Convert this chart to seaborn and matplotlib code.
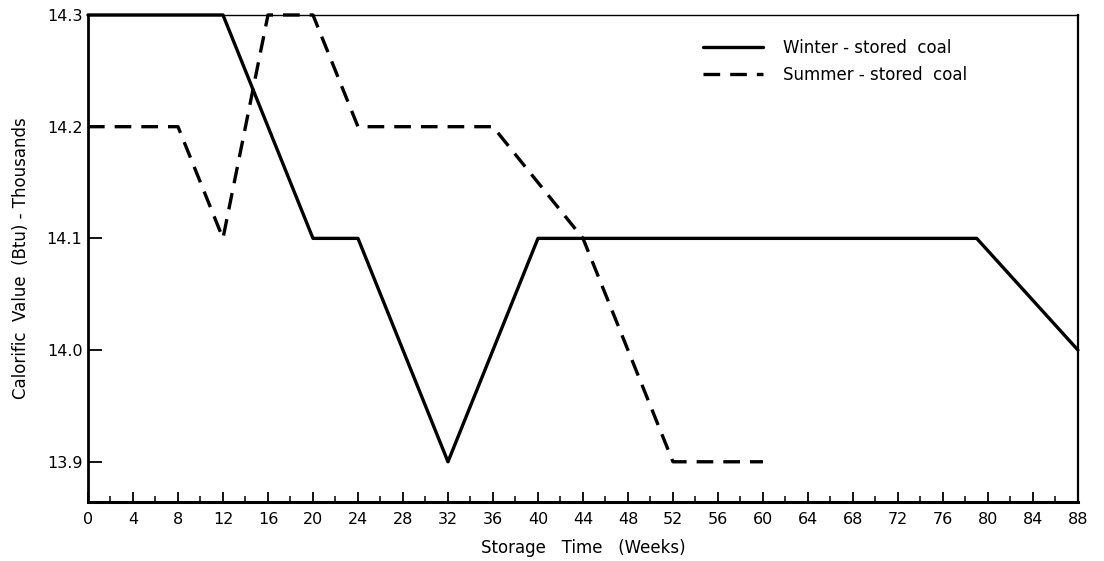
import matplotlib
matplotlib.use("Agg")
import matplotlib.pyplot as plt
import seaborn as sns
import pandas as pd
from matplotlib.ticker import MultipleLocator

# Data
winter_weeks = [0, 12, 20, 24, 32, 40, 79, 88]
winter_values = [14.3, 14.3, 14.1, 14.1, 13.9, 14.1, 14.1, 14.0]
summer_weeks = [0, 8, 12, 16, 20, 24, 36, 44, 52, 60]
summer_values = [14.2, 14.2, 14.1, 14.3, 14.3, 14.2, 14.2, 14.1, 13.9, 13.9]
series_names = ["Winter - stored  coal", "Summer - stored  coal"]
x_ticks = list(range(0, 89, 4))
y_ticks = [13.9, 14.0, 14.1, 14.2, 14.3]
y_tick_labels = ["13.9", "14.0", "14.1", "14.2", "14.3"]

sns.set_theme(style="white")
plt.rcParams['font.family'] = ['DejaVu Sans']
plt.rcParams['text.color'] = 'black'
plt.rcParams['axes.labelcolor'] = 'black'
plt.rcParams['xtick.color'] = 'black'
plt.rcParams['ytick.color'] = 'black'

fig = plt.figure(figsize=(11.04, 5.61), dpi=100)
ax = fig.add_axes([0.0797, 0.1052, 0.8967, 0.8681])

winter_df = pd.DataFrame({"week": winter_weeks, "value": winter_values})
summer_df = pd.DataFrame({"week": summer_weeks, "value": summer_values})

sns.lineplot(data=winter_df, x="week", y="value", ax=ax, color="black",
             linewidth=2.4, label=series_names[0], clip_on=False)
sns.lineplot(data=summer_df, x="week", y="value", ax=ax, color="black",
             linewidth=2.4, linestyle=(0, (5, 3)), label=series_names[1], clip_on=False)

ax.set_xlim(0, 88)
ax.set_ylim(13.864, 14.3)
ax.set_xticks(x_ticks)
ax.set_xticklabels([str(t) for t in x_ticks], fontsize=11.5)
ax.xaxis.set_minor_locator(MultipleLocator(2))
ax.set_yticks(y_ticks)
ax.set_yticklabels(y_tick_labels, fontsize=11.5)

ax.tick_params(axis="x", which="major", direction="in", length=7, width=1.3,
               bottom=True, pad=7, colors="black")
ax.tick_params(axis="x", which="minor", direction="in", length=4, width=1.1, bottom=True)
ax.tick_params(axis="y", which="major", direction="in", length=10, width=1.3,
               left=True, pad=4, colors="black")

for side, lw in [("left", 2.0), ("bottom", 2.2), ("right", 1.6), ("top", 1.0)]:
    ax.spines[side].set_visible(True)
    ax.spines[side].set_color("black")
    ax.spines[side].set_linewidth(lw)

ax.set_xlabel("Storage   Time   (Weeks)", fontsize=12, labelpad=9, color="black")
ax.set_ylabel("Calorific  Value  (Btu) - Thousands", fontsize=12, labelpad=12, color="black")

leg = ax.legend(loc="upper left", bbox_to_anchor=(0.615, 0.965), frameon=False,
                handlelength=3.6, handletextpad=1.2, labelspacing=0.55, fontsize=12,
                borderaxespad=0, labelcolor="black")

fig.savefig("out.png", dpi=100, facecolor="white")
